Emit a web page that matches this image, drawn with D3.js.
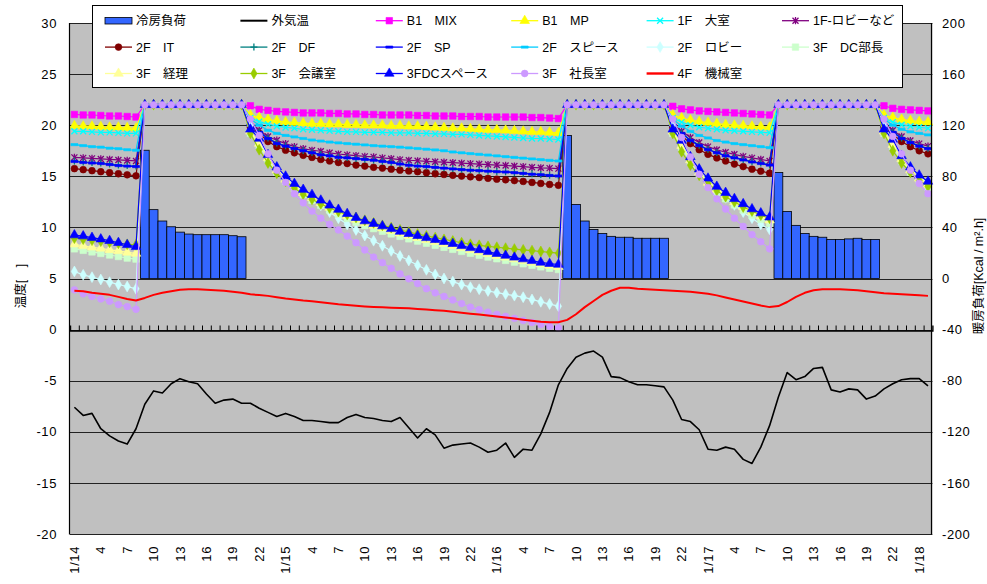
<!DOCTYPE html>
<html><head><meta charset="utf-8">
<script src="https://cdnjs.cloudflare.com/ajax/libs/d3/7.8.5/d3.min.js"></script>
<style>
body{margin:0;background:#fff;}
svg{display:block;font-family:"Liberation Sans","Noto Sans CJK JP",sans-serif;}
</style>
</head><body>
<svg id="chart" width="987" height="584"></svg>
<script>
// ---- data: hourly values, 1/14 1:00 ... 1/18 2:00 ----
const days = ["1/14", "1/15", "1/16", "1/17", "1/18"];
const N = 98;

// outdoor air temperature [°C]
const outdoor = [
  -7.6,-8.4,-8.2,-9.7,-10.4,-10.9,-11.2,-9.7,
  -7.3,-6.0,-6.2,-5.3,-4.8,-5.1,-5.3,-6.3,-7.2,-6.9,-6.8,-7.2,
  -7.2,-7.7,-8.1,-8.5,-8.2,-8.5,-8.9,-8.9,-9.0,-9.1,-9.1,-8.6,-8.3,-8.6,-8.7,-8.9,-9.0,-8.6,-9.6,-10.6,-9.7,-10.3,-11.6,-11.3,-11.2,-11.1,-11.5,-12.0,-11.8,-11.1,-12.5,-11.7,-11.8,-10.2,-8.1,-5.4,
  -3.8,-2.7,-2.3,-2.1,-2.7,-4.6,-4.7,-5.1,-5.4,-5.4,-5.5,-5.6,
  -6.9,-8.8,-9.0,-9.8,-11.7,-11.8,-11.5,-11.7,-12.7,-13.1,-11.5,-9.4,
  -6.6,-4.2,-4.9,-4.6,-3.8,-3.7,-5.9,-6.1,-5.8,-5.9,-6.8,-6.5,
  -5.8,-5.3,-4.9,-4.8,-4.8,-5.5
];

// cooling load [kcal/m2h] (right axis), only during operating hours
const coolLoad = [
  null,null,null,null,null,null,null,null,
  100.4,53.9,45.0,40.5,36.3,34.8,34.3,34.3,34.3,34.3,33.5,32.7,
  null,null,null,null,null,null,null,null,null,null,null,null,null,null,null,null,null,null,
  null,null,null,null,null,null,null,null,null,null,null,null,null,null,null,null,null,null,
  112,58,45,38.4,35.3,33,32.3,32.3,31.5,31.5,31.5,31.5,
  null,null,null,null,null,null,null,null,null,null,null,null,
  83,52.5,41.6,35.3,33,32.3,30.6,30.6,31,31.5,30.6,30.6,
  null,null,null,null,null,null
];

// room temperatures [°C]
const b1Mix = [
  21.05,21.0,21.0,20.95,20.9,20.9,20.85,20.8,
  22,22,22,22,22,22,22,22,22,22,22,22,
  21.9,21.55,21.45,21.35,21.3,21.25,21.2,21.2,21.2,21.15,21.15,21.1,21.1,21.05,21.05,21.0,21.0,21.0,21.0,20.95,20.95,20.9,20.9,20.9,20.85,20.85,20.85,20.8,20.8,20.8,20.8,20.8,20.75,20.75,20.7,20.65,
  22,22,22,22,22,22,22,22,22,22,22,22,
  21.85,21.6,21.5,21.4,21.35,21.3,21.25,21.2,21.15,21.1,21.05,21.0,
  22,22,22,22,22,22,22,22,22,22,22,22,
  21.9,21.65,21.55,21.5,21.45,21.4
];
const b1Mp = [
  19.95,19.9,19.9,19.85,19.8,19.8,19.75,19.7,
  22,22,22,22,22,22,22,22,22,22,22,22,
  21.0,20.75,20.55,20.42,20.3,20.25,20.2,20.15,20.15,20.1,20.1,20.05,20.05,20.0,20.0,20.0,19.95,19.95,19.9,19.9,19.85,19.8,19.75,19.7,19.7,19.65,19.6,19.55,19.55,19.5,19.45,19.4,19.35,19.35,19.3,19.25,
  22,22,22,22,22,22,22,22,22,22,22,22,
  21.0,20.7,20.5,20.35,20.25,20.15,20.05,20.0,19.95,19.9,19.85,19.8,
  22,22,22,22,22,22,22,22,22,22,22,22,
  21.0,20.75,20.55,20.45,20.35,20.3
];
const f1Large = [
  19.4,19.4,19.35,19.3,19.3,19.25,19.2,19.2,
  22,22,22,22,22,22,22,22,22,22,22,22,
  20.7,20.35,20.1,19.9,19.78,19.7,19.6,19.55,19.5,19.45,19.4,19.35,19.35,19.3,19.3,19.3,19.25,19.25,19.25,19.2,19.2,19.15,19.15,19.1,19.1,19.05,19.0,18.95,18.9,18.85,18.8,18.75,18.7,18.7,18.65,18.6,
  22,22,22,22,22,22,22,22,22,22,22,22,
  20.7,20.3,20.0,19.8,19.7,19.6,19.5,19.45,19.4,19.35,19.3,19.25,
  22,22,22,22,22,22,22,22,22,22,22,22,
  20.7,20.3,20.05,19.9,19.8,19.7
];
const f1Lobby = [
  16.85,16.8,16.75,16.7,16.65,16.6,16.55,16.5,
  22,22,22,22,22,22,22,22,22,22,22,22,
  20.2,19.5,18.9,18.53,18.2,17.9,17.7,17.55,17.45,17.3,17.18,17.1,17.02,16.95,16.9,16.8,16.72,16.63,16.57,16.52,16.47,16.42,16.38,16.33,16.28,16.24,16.2,16.15,16.1,16.06,16.0,15.95,15.88,15.83,15.8,15.75,
  22,22,22,22,22,22,22,22,22,22,22,22,
  20.2,19.4,18.8,18.3,17.9,17.6,17.35,17.15,16.95,16.8,16.65,16.5,
  22,22,22,22,22,22,22,22,22,22,22,22,
  20.2,19.5,18.9,18.5,18.2,17.95
];
const f2It = [
  15.75,15.65,15.55,15.45,15.35,15.25,15.15,15.05,
  22,22,22,22,22,22,22,22,22,22,22,22,
  19.8,19.2,18.4,17.9,17.55,17.3,17.05,16.85,16.65,16.5,16.35,16.25,16.1,16.0,15.88,15.8,15.7,15.6,15.52,15.45,15.35,15.25,15.18,15.1,15.02,14.95,14.88,14.8,14.72,14.66,14.58,14.5,14.4,14.3,14.2,14.12,
  22,22,22,22,22,22,22,22,22,22,22,22,
  19.8,19.0,18.2,17.6,17.15,16.8,16.5,16.2,15.95,15.7,15.5,15.3,
  22,22,22,22,22,22,22,22,22,22,22,22,
  19.8,19.1,18.4,17.9,17.5,17.2
];
const f2Df = [
  16.5,16.4,16.35,16.3,16.2,16.1,16.05,16.0,
  22,22,22,22,22,22,22,22,22,22,22,22,
  20.0,19.35,18.75,18.25,17.98,17.74,17.53,17.33,17.14,17.03,16.9,16.83,16.75,16.68,16.6,16.48,16.38,16.24,16.12,16.04,15.98,15.9,15.83,15.76,15.69,15.63,15.58,15.53,15.48,15.45,15.38,15.31,15.24,15.18,15.11,15.06,
  22,22,22,22,22,22,22,22,22,22,22,22,
  20.0,19.25,18.55,18.05,17.65,17.33,17.04,16.84,16.64,16.44,16.29,16.14,
  22,22,22,22,22,22,22,22,22,22,22,22,
  20.0,19.35,18.75,18.33,17.98,17.74
];
const f2Sp = [
  16.45,16.35,16.3,16.25,16.15,16.05,16.0,15.95,
  22,22,22,22,22,22,22,22,22,22,22,22,
  20.0,19.3,18.69,18.2,17.95,17.71,17.5,17.3,17.1,17.0,16.85,16.8,16.72,16.65,16.57,16.45,16.35,16.2,16.08,16.0,15.95,15.87,15.8,15.72,15.65,15.59,15.55,15.5,15.45,15.42,15.35,15.28,15.2,15.15,15.08,15.03,
  22,22,22,22,22,22,22,22,22,22,22,22,
  20.0,19.2,18.5,18.0,17.6,17.3,17.0,16.8,16.6,16.4,16.25,16.1,
  22,22,22,22,22,22,22,22,22,22,22,22,
  20.0,19.3,18.7,18.3,17.95,17.7
];
const f2Space = [
  18.1,18.0,17.9,17.85,17.75,17.7,17.6,17.55,
  22,22,22,22,22,22,22,22,22,22,22,22,
  20.6,20.0,19.5,19.2,19.0,18.85,18.7,18.55,18.45,18.35,18.27,18.2,18.14,18.07,18.0,17.95,17.9,17.85,17.78,17.72,17.65,17.58,17.5,17.38,17.3,17.22,17.15,17.08,17.0,16.92,16.85,16.78,16.7,16.63,16.56,16.5,
  22,22,22,22,22,22,22,22,22,22,22,22,
  20.6,19.9,19.4,19.0,18.75,18.5,18.35,18.2,18.1,18.0,17.9,17.8,
  22,22,22,22,22,22,22,22,22,22,22,22,
  20.6,20.0,19.6,19.35,19.2,19.05
];
const f2Lobby = [
  5.69,5.36,5.13,4.9,4.64,4.41,4.22,3.99,
  22,22,22,22,22,22,22,22,22,22,22,22,
  20.0,18.5,16.9,15.8,14.93,14.15,13.46,12.8,12.16,11.5,10.9,10.3,9.75,9.2,8.7,8.2,7.7,7.2,6.76,6.3,5.85,5.4,5.0,4.7,4.4,4.15,3.95,3.78,3.62,3.47,3.32,3.17,2.95,2.72,2.5,2.29,
  22,22,22,22,22,22,22,22,22,22,22,22,
  20.0,18.4,16.7,15.5,14.5,13.6,12.9,12.2,11.5,10.9,10.3,9.8,
  22,22,22,22,22,22,22,22,22,22,22,22,
  20.0,18.5,17.0,15.9,15.0,14.3
];
const f3DcChief = [
  7.9,7.75,7.6,7.45,7.3,7.15,7.0,6.9,
  22,22,22,22,22,22,22,22,22,22,22,22,
  19.2,18.0,16.6,15.4,14.5,13.8,13.2,12.65,12.15,11.7,11.28,10.88,10.5,10.17,9.88,9.62,9.36,9.12,8.88,8.66,8.45,8.25,8.05,7.85,7.65,7.47,7.28,7.1,6.93,6.77,6.6,6.44,6.29,6.14,6.0,5.88,
  22,22,22,22,22,22,22,22,22,22,22,22,
  19.2,17.8,16.4,15.2,14.2,13.4,12.8,12.2,11.7,11.2,10.8,10.4,
  22,22,22,22,22,22,22,22,22,22,22,22,
  19.2,17.9,16.5,15.4,14.6,13.9
];
const f3Account = [
  8.35,8.2,8.05,7.95,7.8,7.7,7.55,7.45,
  22,22,22,22,22,22,22,22,22,22,22,22,
  19.4,18.2,16.8,15.6,14.7,14.0,13.4,12.9,12.4,11.95,11.55,11.15,10.78,10.45,10.18,9.93,9.68,9.43,9.2,8.99,8.79,8.6,8.4,8.2,8.0,7.8,7.6,7.42,7.24,7.07,6.9,6.73,6.57,6.41,6.28,6.15,
  22,22,22,22,22,22,22,22,22,22,22,22,
  19.4,18.0,16.6,15.4,14.4,13.7,13.1,12.5,12.0,11.5,11.1,10.7,
  22,22,22,22,22,22,22,22,22,22,22,22,
  19.4,18.1,16.7,15.6,14.8,14.2
];
const f3Meeting = [
  8.95,8.85,8.75,8.65,8.55,8.45,8.35,8.3,
  22,22,22,22,22,22,22,22,22,22,22,22,
  19.2,17.6,16.3,15.3,14.5,13.85,13.25,12.75,12.3,11.9,11.55,11.25,10.97,10.7,10.45,10.2,9.98,9.76,9.54,9.35,9.17,9.0,8.83,8.67,8.5,8.35,8.25,8.15,8.06,7.97,7.88,7.8,7.72,7.64,7.56,7.48,
  22,22,22,22,22,22,22,22,22,22,22,22,
  19.2,17.4,16.1,15.1,14.3,13.6,13.0,12.5,12.0,11.6,11.2,10.9,
  22,22,22,22,22,22,22,22,22,22,22,22,
  19.2,17.5,16.3,15.4,14.6,14.0
];
const f3DcSpace = [
  9.25,9.15,9.0,8.85,8.7,8.5,8.3,8.1,
  22,22,22,22,22,22,22,22,22,22,22,22,
  19.6,18.7,17.1,15.9,15.0,14.28,13.7,13.2,12.65,12.16,11.75,11.34,10.95,10.62,10.37,10.13,9.86,9.6,9.38,9.18,8.98,8.79,8.6,8.4,8.2,8.0,7.8,7.61,7.43,7.25,7.07,6.9,6.73,6.57,6.45,6.37,
  22,22,22,22,22,22,22,22,22,22,22,22,
  19.6,18.5,16.9,15.7,14.8,14.0,13.4,12.8,12.3,11.8,11.4,11.0,
  22,22,22,22,22,22,22,22,22,22,22,22,
  19.6,18.6,17.0,15.9,15.1,14.5
];
const f3President = [
  3.89,3.5,3.24,3.0,2.78,2.45,2.25,1.99,
  22,22,22,22,22,22,22,22,22,22,22,22,
  20.6,19.0,17.2,15.6,14.4,13.3,12.4,11.6,10.9,10.3,9.75,9.15,8.5,7.8,7.1,6.55,6.0,5.45,4.97,4.5,4.0,3.6,3.25,2.9,2.55,2.2,1.95,1.7,1.5,1.3,1.1,0.9,0.7,0.5,0.32,0.16,
  22,22,22,22,22,22,22,22,22,22,22,22,
  20.6,18.8,16.9,15.2,13.9,12.8,11.8,10.9,10.1,9.3,8.6,7.9,
  22,22,22,22,22,22,22,22,22,22,22,22,
  20.6,18.9,17.2,15.6,14.3,13.3
];
const f4Machine = [
  3.8,3.75,3.6,3.5,3.4,3.2,3.0,2.85,
  3.1,3.4,3.6,3.75,3.9,3.95,3.95,3.9,3.85,3.8,3.7,3.6,
  3.45,3.38,3.3,3.17,3.05,2.95,2.85,2.78,2.68,2.58,2.48,2.4,2.33,2.27,2.22,2.18,2.14,2.11,2.08,2.02,1.96,1.9,1.84,1.75,1.66,1.56,1.47,1.37,1.28,1.18,1.08,0.97,0.87,0.77,0.72,0.72,
  0.95,1.5,2.2,2.8,3.4,3.8,4.1,4.1,4.0,3.95,3.9,3.85,
  3.8,3.75,3.7,3.6,3.5,3.35,3.15,2.95,2.75,2.55,2.35,2.2,
  2.3,2.7,3.2,3.6,3.85,3.95,3.95,3.95,3.9,3.85,3.75,3.65,
  3.55,3.5,3.45,3.4,3.35,3.3
];

const leftTicks = [-20, -15, -10, -5, 0, 5, 10, 15, 20, 25, 30];
const rightTicks = [-200, -160, -120, -80, -40, 0, 40, 80, 120, 160, 200];

// series styling (drawing order = legend order)
const series = [
  {name: "外気温", values: outdoor, color: "#000000", width: 1.6, marker: null},
  {name: "B1　MIX", values: b1Mix, color: "#FF00FF", width: 1.2, marker: "square"},
  {name: "B1　MP", values: b1Mp, color: "#FFFF00", width: 1.2, marker: "triangle"},
  {name: "1F　大室", values: f1Large, color: "#00FFFF", width: 1.2, marker: "x"},
  {name: "1F-ロビーなど", values: f1Lobby, color: "#800080", width: 1.2, marker: "star"},
  {name: "2F　IT", values: f2It, color: "#800000", width: 1.2, marker: "circle"},
  {name: "2F　DF", values: f2Df, color: "#008080", width: 1.2, marker: "plus"},
  {name: "2F　SP", values: f2Sp, color: "#0000FF", width: 1.2, marker: "dash"},
  {name: "2F　スピース", values: f2Space, color: "#00CCFF", width: 1.2, marker: "dash"},
  {name: "2F　ロビー", values: f2Lobby, color: "#CCFFFF", width: 1.2, marker: "diamond"},
  {name: "3F　DC部長", values: f3DcChief, color: "#CCFFCC", width: 1.2, marker: "square"},
  {name: "3F　経理", values: f3Account, color: "#FFFF99", width: 1.2, marker: "triangle"},
  {name: "3F　会議室", values: f3Meeting, color: "#99CC00", width: 1.2, marker: "diamond"},
  {name: "3FDCスペース", values: f3DcSpace, color: "#0000FF", width: 1.2, marker: "triangle"},
  {name: "3F　社長室", values: f3President, color: "#CC99FF", width: 1.2, marker: "circle"},
  {name: "4F　機械室", values: f4Machine, color: "#FF0000", width: 2, marker: null}
];

// ---- layout ----
const L = 70, R = 932.4, T = 23, B = 534;
const svg = d3.select("#chart");

const x = d3.scaleBand().domain(d3.range(N)).range([L, R]).padding(0);
const xc = i => x(i) + x.bandwidth() / 2;
const yL = d3.scaleLinear().domain([-20, 30]).range([B, T]);
const yR = d3.scaleLinear().domain([-200, 200]).range([B, T]);
const crisp = v => Math.round(v) + 0.5;

// plot background
svg.append("rect").attr("x", L).attr("y", T).attr("width", R - L).attr("height", B - T)
  .attr("fill", "#C0C0C0");

// horizontal gridlines
svg.append("g").selectAll("line").data(leftTicks).join("line")
  .attr("x1", L).attr("x2", R)
  .attr("y1", d => crisp(yL(d))).attr("y2", d => crisp(yL(d)))
  .attr("stroke", "#222").attr("stroke-width", 1);

// cooling load bars (right axis)
svg.append("g").selectAll("rect")
  .data(coolLoad.map((v, i) => ({v, i})).filter(d => d.v !== null))
  .join("rect")
  .attr("x", d => x(d.i)).attr("width", x.bandwidth())
  .attr("y", d => yR(d.v)).attr("height", d => yR(0) - yR(d.v))
  .attr("fill", "#3366FF").attr("stroke", "#000").attr("stroke-width", 0.8);

// marker shapes
function markerPath(type) {
  switch (type) {
    case "square": return d3.symbol(d3.symbolSquare, 42)();
    case "triangle": return d3.symbol(d3.symbolTriangle, 40)();
    case "diamond": return d3.symbol(d3.symbolDiamond, 34)();
    case "circle": return d3.symbol(d3.symbolCircle, 36)();
    case "x": return "M-3,-3L3,3M-3,3L3,-3";
    case "star": return "M-3,-3L3,3M-3,3L3,-3M0,-3.6L0,3.6";
    case "plus": return "M-3.5,0L3.5,0M0,-3.5L0,3.5";
    case "dash": return "M-3.5,-1.1H3.5V1.1H-3.5Z";
  }
  return null;
}
const strokeOnly = t => t === "x" || t === "star" || t === "plus";

const line = d3.line().x((d, i) => xc(i)).y(d => yL(d));

const plotG = svg.append("g");
series.forEach(s => {
  const g = plotG.append("g");
  g.append("path").datum(s.values).attr("d", line)
    .attr("fill", "none").attr("stroke", s.color).attr("stroke-width", s.width)
    .attr("stroke-linejoin", "round");
  if (s.marker) {
    const p = markerPath(s.marker);
    g.selectAll("path.m").data(s.values).join("path").attr("class", "m")
      .attr("d", p)
      .attr("transform", (d, i) => `translate(${xc(i)},${yL(d)})`)
      .attr("fill", strokeOnly(s.marker) ? "none" : s.color)
      .attr("stroke", s.color).attr("stroke-width", strokeOnly(s.marker) ? 1.3 : 0.6);
  }
});

// frame lines
svg.append("line").attr("x1", crisp(L) - 1).attr("x2", crisp(L) - 1).attr("y1", T).attr("y2", B + 0.5)
  .attr("stroke", "#000").attr("stroke-width", 1.2);
svg.append("line").attr("x1", crisp(R) - 1).attr("x2", crisp(R) - 1).attr("y1", T).attr("y2", B + 0.5)
  .attr("stroke", "#000").attr("stroke-width", 1.2);

// category axis across the zero line, ticks pointing up
const xb = d3.scaleLinear().domain([0, N]).range([L, R]);
const zeroAxis = svg.append("g").attr("transform", `translate(0,${crisp(yL(0))})`)
  .call(d3.axisTop(xb).tickValues(d3.range(1, N)).tickSize(5).tickFormat(""));
zeroAxis.select(".domain").attr("stroke", "#000").attr("stroke-width", 1.4);
zeroAxis.selectAll(".tick line").attr("stroke", "#000").attr("stroke-width", 1);

// left axis labels
const fontSize = 13;
svg.append("g").selectAll("text").data(leftTicks).join("text")
  .attr("x", 57).attr("y", d => yL(d)).attr("dy", "0.36em")
  .attr("text-anchor", "end").attr("font-size", fontSize).attr("letter-spacing", "0.6px")
  .text(d => d);

// right axis labels
svg.append("g").selectAll("text").data(rightTicks).join("text")
  .attr("x", 942).attr("y", d => yR(d)).attr("dy", "0.36em")
  .attr("text-anchor", "start").attr("font-size", fontSize).attr("letter-spacing", "0.6px")
  .text(d => d);

// category labels (every 3 hours, rotated)
const catLabel = i => (i % 24 === 0 ? days[i / 24] : String(i % 24 + 1));
svg.append("g").selectAll("text").data(d3.range(0, N, 3)).join("text")
  .attr("transform", i => `translate(${xc(i) + 4.5},546) rotate(-90)`)
  .attr("text-anchor", "end").attr("font-size", fontSize).attr("letter-spacing", "0.6px")
  .text(catLabel);

// axis titles
svg.append("text").attr("transform", "translate(25,286) rotate(-90)")
  .attr("text-anchor", "middle").attr("font-size", 12.5).text("温度[　]");
svg.append("text").attr("transform", "translate(983,276) rotate(-90)")
  .attr("text-anchor", "middle").attr("font-size", 12.5).text("暖房負荷[Kcal / m².h]");

// legend
const legend = svg.append("g");
legend.append("rect").attr("x", 92.5).attr("y", 5.5).attr("width", 810).attr("height", 82)
  .attr("fill", "#fff").attr("stroke", "#000").attr("stroke-width", 1);
const legendItems = [{name: "冷房負荷", bar: true}].concat(series);
legendItems.forEach((s, k) => {
  const col = k % 6, row = Math.floor(k / 6);
  const tx = 136 + col * 135.4, ty = 20.7 + row * 26.4;
  const g = legend.append("g");
  if (s.bar) {
    g.append("rect").attr("x", tx - 31).attr("y", ty - 3.3).attr("width", 27).attr("height", 6.6)
      .attr("fill", "#3366FF").attr("stroke", "#000").attr("stroke-width", 0.8);
  } else {
    g.append("line").attr("x1", tx - 31).attr("x2", tx - 4).attr("y1", ty).attr("y2", ty)
      .attr("stroke", s.color).attr("stroke-width", s.width === 1.2 ? 1.3 : s.width + 0.4);
    if (s.marker) {
      g.append("path").attr("d", markerPath(s.marker))
        .attr("transform", `translate(${tx - 17.5},${ty})`)
        .attr("fill", strokeOnly(s.marker) ? "none" : s.color)
        .attr("stroke", s.color).attr("stroke-width", strokeOnly(s.marker) ? 1.3 : 0.6);
    }
  }
  g.append("text").attr("x", tx).attr("y", ty).attr("dy", "0.36em")
    .attr("font-size", 12.5).text(s.name);
});
</script>
</body></html>
